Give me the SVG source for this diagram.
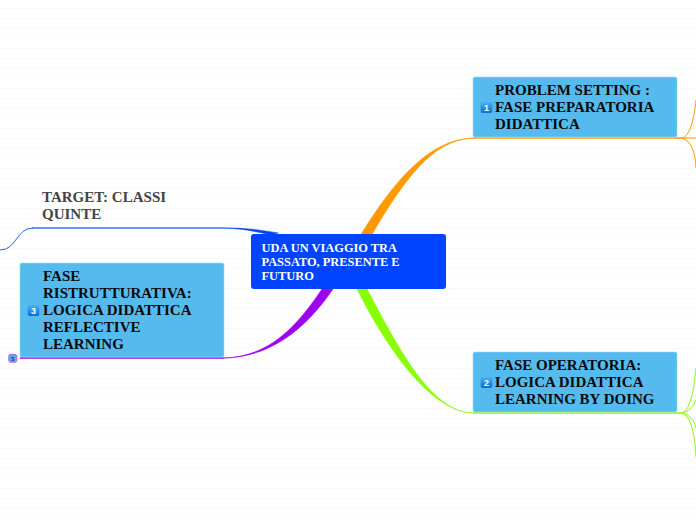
<svg xmlns="http://www.w3.org/2000/svg" width="696" height="520" viewBox="0 0 696 520">
<defs>
<pattern id="rule" width="696" height="10" patternUnits="userSpaceOnUse" y="8"><rect width="696" height="1" fill="#f9f9f9"/></pattern>
<linearGradient id="badge" x1="0" y1="0" x2="0" y2="1"><stop offset="0" stop-color="#4db4f2"/><stop offset="1" stop-color="#0a6fd6"/></linearGradient>
</defs>
<style>
text{font-family:"Liberation Serif","Times New Roman",serif;font-weight:bold}
.box{fill:#55bbee;stroke:#9ad8f6;stroke-width:.6}
.t{font-size:15px;fill:#0a0a0a}
.g{font-size:15px;fill:#444}
.c{font-size:12.4px;fill:#fff}
.n{font-family:"Liberation Sans",Arial,sans-serif;font-size:9px;fill:#fff;text-anchor:middle}
.thin{fill:none;stroke-width:1}
.main{fill:none;stroke-width:1.5}
.bo{stroke:#ff9900}.bg{stroke:#88ff00}.bp{stroke:#a000f0}
.badge{fill:url(#badge)}
</style>
<rect width="696" height="520" fill="#fff"/>
<rect width="696" height="520" fill="url(#rule)"/>
<g id="connectors">
<path d="M360 236C392 184 428 139 473 138C432 140 404 180 371 236Z" fill="#ff9900" stroke="#ff9900" stroke-width=".6"/>
<path d="M357 289C385 345 430 412 473 413C430 412 397 345 367 289Z" fill="#88ff00" stroke="#88ff00" stroke-width=".6"/>
<path d="M322 289C296 328 268 357 224 358C270 357 305 330 333 289Z" fill="#a000f0" stroke="#a000f0" stroke-width=".6"/>
<path d="M278 233C255 229 243 228 224 228C243 229 250 230 270 235Z" fill="#0044ee" stroke="#0044ee" stroke-width=".6"/>
<path d="M224 228H32" class="main" stroke="#6699ff" style="stroke-width:1.8"/>
<path d="M33 228C16 228 17 250 0 250" class="thin" stroke="#2266ee"/>
<path d="M473 138H682" class="main bo"/>
<path d="M682 138C690 136 694 120 696 100M682 138H696M682 138C692 142 695 152 696 168" class="thin bo"/>
<path d="M473 413H682" class="main bg"/>
<path d="M682 413C690 411 694 390 696 368M682 413C688 412 693 407 696 400M682 413C690 415 694 420 696 428M682 413C691 416 695 435 696 457" class="thin bg"/>
<path d="M20 358H224" class="main bp"/>
</g>
<g id="central"><rect x="251" y="234" width="195" height="55" rx="3" fill="#0044ff"/>
<text class="c" x="261.500" y="252">UDA UN VIAGGIO TRA</text><text class="c" x="261.500" y="266">PASSATO, PRESENTE E</text><text class="c" x="261.500" y="280">FUTURO</text></g>
<g id="node1"><rect class="box" x="473" y="77" width="204" height="60" rx="2"/>
<rect class="badge" x="480.700" y="101.700" width="11.600" height="11.200" rx="2"/><text class="n" x="486.500" y="111">1</text>
<text class="t" x="495" y="95">PROBLEM SETTING :</text><text class="t" x="495" y="112">FASE PREPARATORIA</text><text class="t" x="495" y="129">DIDATTICA</text></g>
<g id="node2"><rect class="box" x="473" y="352" width="204" height="60" rx="2"/>
<rect class="badge" x="480.700" y="376.700" width="11.600" height="11.200" rx="2"/><text class="n" x="486.500" y="386">2</text>
<text class="t" x="495" y="370">FASE OPERATORIA:</text><text class="t" x="495" y="387">LOGICA DIDATTICA</text><text class="t" x="495" y="404">LEARNING BY DOING</text></g>
<g id="node3"><rect class="box" x="20" y="263" width="204" height="94" rx="2"/>
<rect class="badge" x="27.700" y="304.700" width="11.600" height="11.200" rx="2"/><text class="n" x="33.500" y="314">3</text>
<text class="t" x="43" y="281">FASE</text><text class="t" x="43" y="298">RISTRUTTURATIVA:</text><text class="t" x="43" y="315">LOGICA DIDATTICA</text><text class="t" x="43" y="332">REFLECTIVE</text><text class="t" x="43" y="349">LEARNING</text></g>
<g id="node4"><text class="g" x="42" y="202">TARGET: CLASSI</text><text class="g" x="42" y="219">QUINTE</text></g>
<g id="collapse"><rect x="8.800" y="354.300" width="8" height="8" rx="2" fill="#55aaee" stroke="#a070f0"/><text x="12.800" y="360.500" font-size="6" fill="#224" text-anchor="middle">5</text></g>
</svg>
